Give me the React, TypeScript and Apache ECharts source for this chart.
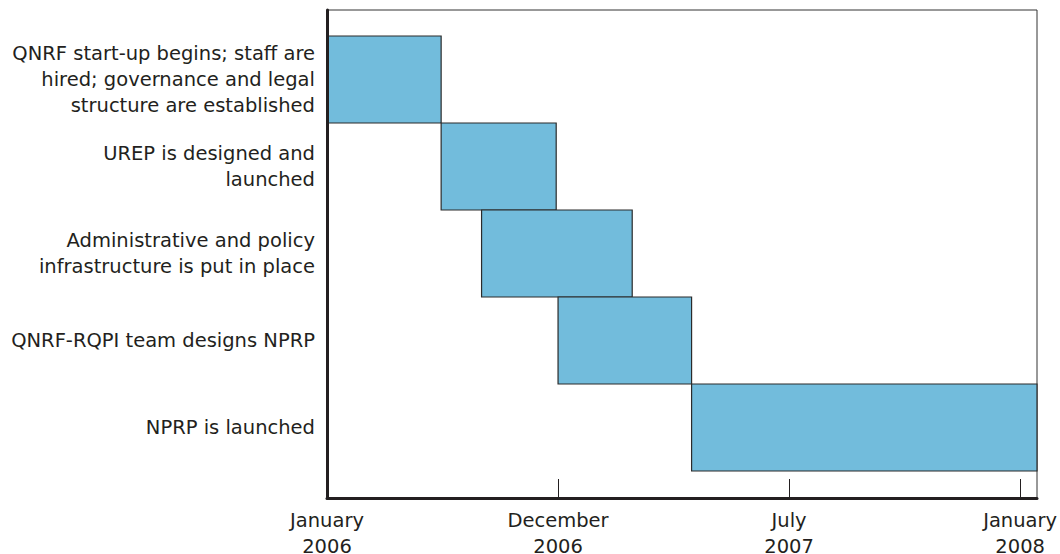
import React, { useEffect, useRef } from "react";
import * as echarts from "echarts";

const categories = [
  "QNRF start-up begins; staff are\nhired; governance and legal\nstructure are established",
  "UREP is designed and\nlaunched",
  "Administrative and policy\ninfrastructure is put in place",
  "QNRF-RQPI team designs NPRP",
  "NPRP is launched",
];
// Axis units: 0 = January 2006, 1 = December 2006, 2 = July 2007, 3 = January 2008
const starts = [0, 0.494, 0.669, 1.0, 1.578];
const ends = [0.494, 0.992, 1.321, 1.578, 3.073];
const tickLabels = ["January\n2006", "December\n2006", "July\n2007", "January\n2008"];
const axisMax = 3.073;

const TEXT = "#231f20";
const FONT = "'DejaVu Sans', sans-serif";
const FS = 19.5;

export default function App() {
  const ref = useRef<HTMLDivElement>(null);
  useEffect(() => {
    if (!ref.current) return;
    const chart = echarts.init(ref.current, undefined, { renderer: "svg" });
    const data = categories.map((_, i) => [starts[i], ends[i], i]);
    chart.setOption({
      animation: false,
      textStyle: { fontFamily: FONT },
      grid: [
        { left: 327, right: 23, top: 10, bottom: 56, containLabel: false, outerBoundsMode: "none", show: true, borderColor: "#333", borderWidth: 1, backgroundColor: "transparent" },
        { left: 327, right: 23, top: 36, bottom: 83, containLabel: false, outerBoundsMode: "none" },
      ],
      xAxis: [
        {
          type: "value",
          gridIndex: 0,
          min: 0,
          max: axisMax,
          interval: 1,
          z: 5,
          axisLine: { show: true, lineStyle: { color: "#231f20", width: 3 } },
          axisTick: { show: true, inside: true, length: 19, lineStyle: { color: "#231f20", width: 1 } },
          splitLine: { show: false },
          axisLabel: {
            show: true,
            showMaxLabel: false,
            margin: 9,
            fontSize: FS,
            lineHeight: 26,
            color: TEXT,
            fontFamily: FONT,
            align: "center",
            formatter: (v: number) => {
              const i = Math.round(v);
              return Math.abs(v - i) < 1e-6 && i < tickLabels.length ? tickLabels[i] : "";
            },
          },
        },
        {
          type: "value",
          gridIndex: 1,
          min: 0,
          max: axisMax,
          show: false,
        },
      ],
      yAxis: [
        {
          type: "value",
          gridIndex: 0,
          min: 0,
          max: 1,
          z: 5,
          axisLine: { show: true, lineStyle: { color: "#231f20", width: 3 } },
          axisTick: { show: false },
          axisLabel: { show: false },
          splitLine: { show: false },
        },
        {
          type: "category",
          gridIndex: 1,
          inverse: true,
          data: categories,
          axisLine: { show: false },
          axisTick: { show: false },
          splitLine: { show: false },
          axisLabel: {
            margin: 12,
            fontSize: FS,
            lineHeight: 26,
            color: TEXT,
            fontFamily: FONT,
            align: "right",
          },
        },
      ],
      series: [
        {
          type: "custom",
          xAxisIndex: 1,
          yAxisIndex: 1,
          z: 1,
          data,
          renderItem: (params: any, api: any) => {
            const s = api.coord([api.value(0), api.value(2)]);
            const e = api.coord([api.value(1), api.value(2)]);
            const h = api.size([0, 1])[1];
            return {
              type: "rect",
              shape: { x: s[0], y: s[1] - h / 2, width: e[0] - s[0], height: h },
              style: { fill: "#72bcdc", stroke: "#2b2b2b", lineWidth: 1.2 },
            };
          },
        },
      ],
    });
    return () => chart.dispose();
  }, []);
  return <div ref={ref} style={{ width: 1060, height: 554, position: "absolute", left: 0, top: 0 }} />;
}
